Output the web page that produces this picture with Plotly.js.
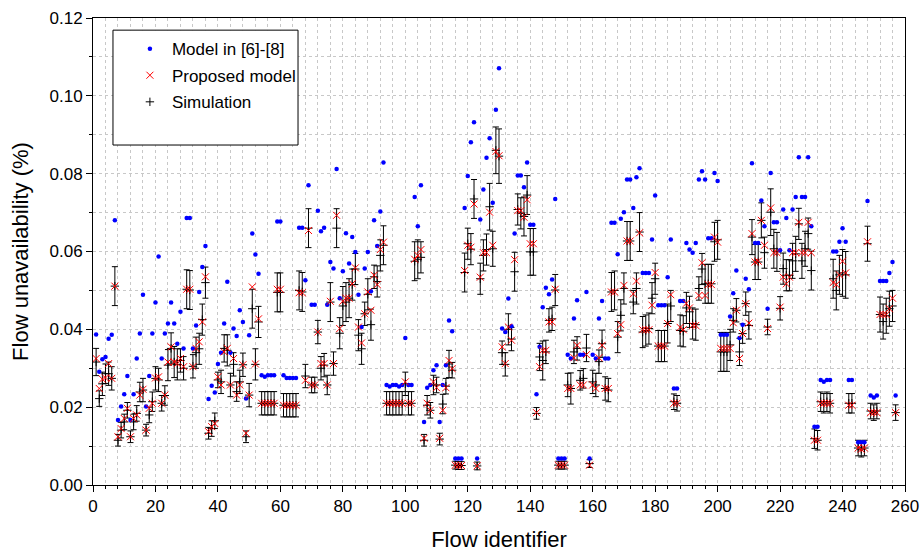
<!DOCTYPE html>
<html>
<head>
<meta charset="utf-8">
<script src="https://cdn.plot.ly/plotly-3.0.1.min.js"></script>
<style>html,body{margin:0;padding:0;background:#fff;}#chart{width:921px;height:554px;}</style>
</head>
<body>
<div id="chart"></div>
<script>
const flowIds = [
1,2,3,4,5,6,7,8,9,10,11,12,13,14,15,16,17,18,19,20,
21,22,23,24,25,26,27,28,29,30,31,32,33,34,35,36,37,38,39,40,
41,42,43,44,45,46,47,48,49,50,51,52,53,54,55,56,57,58,59,60,
61,62,63,64,65,66,67,68,69,70,71,72,73,74,75,76,77,78,79,80,
81,82,83,84,85,86,87,88,89,90,91,92,93,94,95,96,97,98,99,100,
101,102,103,104,105,106,107,108,109,110,111,112,113,114,115,116,117,118,119,120,
121,122,123,124,125,126,127,128,129,130,131,132,133,134,135,136,137,138,139,140,
141,142,143,144,145,146,147,148,149,150,151,152,153,154,155,156,157,158,159,160,
161,162,163,164,165,166,167,168,169,170,171,172,173,174,175,176,177,178,179,180,
181,182,183,184,185,186,187,188,189,190,191,192,193,194,195,196,197,198,199,200,
201,202,203,204,205,206,207,208,209,210,211,212,213,214,215,216,217,218,219,220,
221,222,223,224,225,226,227,228,229,230,231,232,233,234,235,236,237,238,239,240,
241,242,243,244,245,246,247,248,249,250,251,252,253,254,255,256,257];

const modelPrior = [
0.0387,0.0291,0.0323,0.0329,0.0376,0.0386,0.068,0.0167,0.0202,0.0233,
0.028,0.0167,0.0233,0.0325,0.0389,0.0489,0.0202,0.028,0.0389,0.0469,
0.0587,0.0325,0.0389,0.0415,0.0469,0.0415,0.0363,0.0445,0.0351,0.0686,
0.0686,0.0351,0.041,0.0496,0.056,0.0614,0.0221,0.0255,0.0238,0.0311,
0.034,0.0415,0.0522,0.034,0.0402,0.0383,0.0449,0.0419,0.0222,0.0385,
0.0646,0.0592,0.0543,0.0282,0.0278,0.0282,0.0282,0.0282,0.0677,0.0677,
0.0282,0.0275,0.0275,0.0275,0.0275,0.0661,0.0661,0.0526,0.077,0.0463,
0.0463,0.0705,0.0652,0.0661,0.0463,0.0573,0.0556,0.0812,0.048,0.0549,
0.0647,0.0569,0.0637,0.0599,0.0489,0.0406,0.0556,0.0599,0.0498,0.068,
0.0614,0.0703,0.0829,0.0257,0.0253,0.0257,0.0257,0.0253,0.0257,0.0378,
0.0257,0.0257,0.074,0.0665,0.077,0.0162,0.025,0.0257,0.0295,0.0308,
0.0162,0.0257,0.0308,0.0423,0.0395,0.0068,0.0068,0.0068,0.0712,0.0794,
0.0881,0.0932,0.0068,0.0682,0.0759,0.0841,0.0891,0.0725,0.0964,0.1071,
0.0402,0.0393,0.0479,0.0408,0.0646,0.0795,0.0795,0.0765,0.0829,0.0669,
0.0669,0.0233,0.0355,0.0457,0.0507,0.049,0.0528,0.0735,0.0068,0.0068,
0.0068,0.0335,0.0325,0.0428,0.0475,0.0335,0.0335,0.0496,0.0068,0.0335,
0.0325,0.0428,0.0473,0.0325,0.0325,0.0674,0.0674,0.0593,0.0684,0.0701,
0.0785,0.0785,0.0712,0.0791,0.0814,0.0545,0.0545,0.0545,0.0631,0.0744,
0.0462,0.0462,0.0462,0.0534,0.0631,0.0248,0.0248,0.0473,0.0473,0.0622,
0.0605,0.0597,0.0622,0.0785,0.0806,0.0785,0.0634,0.0634,0.0802,0.0781,
0.0386,0.0386,0.0386,0.0433,0.0493,0.0551,0.0378,0.0412,0.053,0.0503,
0.0827,0.0622,0.0622,0.0731,0.0665,0.0453,0.0802,0.0675,0.0675,0.0603,
0.0708,0.0686,0.0603,0.0708,0.074,0.0842,0.074,0.074,0.0842,0.0665,
0.015,0.015,0.027,0.0265,0.027,0.027,0.060,0.060,0.0625,0.066,
0.0625,0.027,0.027,null,0.011,0.011,0.011,0.073,0.023,0.0225,
0.023,0.0524,0.0524,0.0524,0.0545,0.0573,0.023];

const proposedModel = [
0.0325,0.0248,0.0272,0.0275,0.0312,0.0274,0.0511,0.0124,0.0145,0.0171,
0.0197,0.0124,0.0171,0.018,0.0231,0.0246,0.0141,0.0197,0.021,0.0275,
0.0278,0.021,0.0231,0.0316,0.0355,0.0316,0.0312,0.0325,0.0304,0.0503,
0.0503,0.0304,0.0351,0.0368,0.0419,0.0535,0.0137,0.015,0.0158,0.0278,
0.0257,0.0342,0.0351,0.0257,0.0325,0.0231,0.0257,0.0309,0.0133,0.0231,
0.0509,0.0311,0.0427,0.021,0.021,0.021,0.021,0.021,0.0503,0.0503,
0.0205,0.0205,0.0205,0.0205,0.0205,0.0494,0.0494,0.0269,0.0654,0.0257,
0.0257,0.0393,0.0312,0.0312,0.0257,0.0472,0.0312,0.0693,0.0402,0.0472,
0.048,0.048,0.0517,0.0558,0.0406,0.0365,0.044,0.0496,0.0449,0.0539,
0.0515,0.0605,0.0624,0.021,0.021,0.021,0.021,0.021,0.021,0.0265,
0.021,0.021,0.058,0.059,0.0605,0.012,0.021,0.0192,0.0265,0.025,
0.012,0.0192,0.025,0.032,0.0299,0.0051,0.005,0.005,0.0551,0.0616,
0.0611,0.0722,0.0049,0.0534,0.0597,0.0597,0.0701,0.0616,0.0857,0.0846,
0.0355,0.0312,0.0406,0.0372,0.0579,0.0705,0.0705,0.0688,0.0733,0.062,
0.062,0.0186,0.0304,0.0346,0.0346,0.0419,0.0419,0.0503,0.0051,0.0051,
0.0051,0.0248,0.0248,0.0327,0.0359,0.0257,0.0257,0.0335,0.0051,0.0257,
0.0248,0.0327,0.0359,0.0248,0.0248,0.0496,0.0496,0.0389,0.0412,0.0513,
0.0627,0.0627,0.0491,0.0524,0.0648,0.0399,0.0399,0.0399,0.0462,0.0546,
0.0357,0.0357,0.0357,0.0415,0.0489,0.021,0.021,0.0405,0.0399,0.0467,
0.0455,0.041,0.041,0.0487,0.0571,0.0487,0.0515,0.0515,0.0637,0.0624,
0.0351,0.0351,0.0351,0.0351,0.0417,0.0449,0.0325,0.0389,0.0466,0.0416,
0.0646,0.0573,0.0575,0.068,0.0616,0.0402,0.0712,0.0597,0.0597,0.0457,
0.0534,0.0517,0.0534,0.0597,0.0597,0.0675,0.0597,0.0597,0.0675,0.0597,
0.0115,0.0115,0.021,0.021,0.021,0.021,0.052,0.0515,0.054,0.0575,
0.0545,0.0205,0.0205,null,0.0095,0.0092,0.0095,0.0625,0.0186,0.0186,
0.0186,0.0438,0.0438,0.0438,0.0453,0.048,0.0186];

const simulation = [
0.0316,0.0222,0.026,0.0286,0.0286,0.0274,0.0511,0.0115,0.0141,0.0162,
0.0192,0.0124,0.0162,0.0184,0.0239,0.0244,0.0141,0.018,0.0214,0.0274,
0.027,0.021,0.023,0.0308,0.0351,0.0316,0.031,0.032,0.03,0.0503,
0.0501,0.0305,0.034,0.035,0.0425,0.052,0.0133,0.0145,0.0165,0.027,
0.0265,0.0351,0.0346,0.0257,0.031,0.024,0.0265,0.0309,0.0124,0.0231,
0.0453,0.031,0.0419,0.021,0.021,0.021,0.021,0.021,0.0495,0.0495,
0.0205,0.0205,0.0205,0.0205,0.0205,0.05,0.0496,0.028,0.066,0.0257,
0.0257,0.0393,0.03,0.0308,0.0257,0.047,0.0312,0.066,0.039,0.046,
0.047,0.048,0.0515,0.0555,0.0385,0.035,0.044,0.049,0.0412,0.0535,
0.0523,0.059,0.0616,0.021,0.021,0.021,0.021,0.021,0.021,0.026,
0.021,0.021,0.0575,0.058,0.0585,0.0115,0.0205,0.0192,0.0257,0.0257,
0.0118,0.0208,0.0254,0.0311,0.0295,0.0051,0.005,0.005,0.0546,0.062,
0.0606,0.0735,0.0049,0.053,0.059,0.0605,0.0715,0.0607,0.086,0.0845,
0.034,0.031,0.04,0.0375,0.0548,0.0708,0.0698,0.069,0.0745,0.0599,
0.0599,0.0184,0.0329,0.032,0.0342,0.0423,0.0427,0.0501,0.0051,0.0051,
0.0051,0.0257,0.0248,0.0342,0.0351,0.0269,0.0274,0.0352,0.0055,0.0265,
0.0257,0.0317,0.0363,0.0248,0.0244,0.0496,0.05,0.038,0.0436,0.0505,
0.0627,0.0627,0.047,0.0505,0.065,0.0393,0.0397,0.0402,0.048,0.053,
0.0357,0.0357,0.0357,0.0415,0.046,0.0214,0.021,0.0397,0.0395,0.0455,
0.0445,0.0415,0.0412,0.0505,0.0555,0.0517,0.0517,0.0517,0.0625,0.063,
0.0342,0.0342,0.0342,0.036,0.0423,0.0449,0.0342,0.0389,0.0466,0.041,
0.0637,0.0573,0.0573,0.068,0.0597,0.0406,0.0701,0.0607,0.0599,0.0454,
0.0556,0.0539,0.0539,0.0576,0.0594,0.0671,0.0576,0.0607,0.0646,0.0551,
0.0119,0.0115,0.0214,0.021,0.0214,0.021,0.053,0.05,0.054,0.0545,
0.054,0.021,0.021,null,0.0095,0.0092,0.0095,0.062,0.019,0.0186,
0.019,0.0438,0.042,0.0435,0.0453,0.046,0.0186];

const simulationError = [
0.0035,0.002,0.003,0.0025,0.003,0.003,0.005,0.0015,0.002,0.002,
0.002,0.0015,0.002,0.002,0.0025,0.003,0.0015,0.002,0.0025,0.003,
0.003,0.002,0.0025,0.004,0.004,0.004,0.004,0.003,0.003,0.005,
0.005,0.003,0.004,0.004,0.004,0.004,0.0015,0.002,0.002,0.002,
0.003,0.0035,0.004,0.003,0.003,0.0025,0.003,0.003,0.0015,0.003,
0.005,0.004,0.004,0.003,0.003,0.003,0.003,0.003,0.005,0.005,
0.003,0.003,0.003,0.003,0.003,0.005,0.005,0.003,0.005,0.002,
0.002,0.003,0.003,0.003,0.0025,0.005,0.003,0.005,0.004,0.005,
0.005,0.005,0.004,0.004,0.004,0.004,0.003,0.004,0.004,0.003,
0.004,0.004,0.005,0.003,0.003,0.003,0.003,0.003,0.003,0.003,
0.003,0.003,0.005,0.005,0.004,0.0015,0.0025,0.002,0.0025,0.002,
0.0015,0.0025,0.002,0.0035,0.002,0.001,0.001,0.001,0.005,0.004,
0.004,0.005,0.001,0.004,0.004,0.004,0.006,0.0045,0.006,0.007,
0.003,0.003,0.004,0.003,0.005,0.004,0.004,0.005,0.005,0.006,
0.006,0.0015,0.0035,0.005,0.003,0.003,0.003,0.004,0.001,0.001,
0.001,0.003,0.004,0.003,0.003,0.0025,0.0025,0.0035,0.001,0.003,
0.003,0.003,0.0035,0.003,0.003,0.005,0.005,0.004,0.004,0.004,
0.005,0.005,0.003,0.004,0.005,0.004,0.004,0.004,0.004,0.004,
0.004,0.004,0.004,0.005,0.004,0.002,0.002,0.004,0.004,0.004,
0.004,0.004,0.004,0.003,0.004,0.005,0.005,0.005,0.005,0.005,
0.005,0.005,0.005,0.004,0.003,0.003,0.0035,0.0025,0.003,0.0035,
0.0045,0.0045,0.0045,0.0045,0.004,0.002,0.006,0.005,0.005,0.003,
0.004,0.004,0.004,0.0045,0.0045,0.004,0.0045,0.0045,0.004,0.005,
0.0025,0.0025,0.0025,0.0025,0.0025,0.0025,0.005,0.005,0.005,0.006,
0.006,0.0025,0.0025,null,0.002,0.002,0.002,0.0045,0.002,0.002,
0.002,0.0045,0.0045,0.0045,0.0045,0.004,0.002];

const seriesNames = ['Model in [6]-[8]', 'Proposed model', 'Simulation'];

const traces = [
  {
    x: flowIds, y: simulation, name: seriesNames[2], type: 'scatter', mode: 'markers',
    legendrank: 3, legendgroup: 'g3',
    marker: {symbol: 'cross-thin-open', size: 6, color: '#000', line: {color: '#000', width: 1}},
    error_y: {type: 'data', array: simulationError, visible: true, color: '#000', thickness: 1, width: 3}
  },
  {
    x: flowIds, y: modelPrior, name: seriesNames[0], type: 'scatter', mode: 'markers',
    legendrank: 1, legendgroup: 'g1',
    marker: {symbol: 'circle', size: 4.5, color: '#0000ff'}
  },
  {
    x: flowIds, y: proposedModel, name: seriesNames[1], type: 'scatter', mode: 'markers',
    legendrank: 2, legendgroup: 'g2',
    marker: {symbol: 'x-thin-open', size: 7, color: '#ff0000', line: {color: '#ff0000', width: 1}}
  }
];

const gridStyle = {gridcolor: '#c8c8c8', griddash: 'dot', gridwidth: 1};

const layout = {
  width: 921, height: 554,
  margin: {l: 93, r: 16, t: 18, b: 69},
  paper_bgcolor: '#fff', plot_bgcolor: '#fff',
  font: {family: 'Liberation Sans, Arial, sans-serif', size: 17, color: '#000'},
  showlegend: true,
  legend: {
    x: 0.043, y: 0.972, xanchor: 'left', yanchor: 'top',
    borderwidth: 0, bgcolor: 'rgba(0,0,0,0)',
    font: {size: 17, color: '#000'}, traceorder: 'grouped', tracegroupgap: 1.5, itemwidth: 34
  },
  shapes: [{
    type: 'rect', xref: 'paper', yref: 'paper',
    x0: 0.0246, x1: 0.2525, y0: 0.728, y1: 0.974,
    line: {color: '#000', width: 1}, fillcolor: '#fff', layer: 'above'
  }],
  xaxis: Object.assign({
    range: [0, 260], tick0: 0, dtick: 20, ticks: 'outside', ticklen: 6, tickwidth: 1, tickcolor: '#000',
    showline: true, linecolor: '#000', linewidth: 1, mirror: true,
    showgrid: true, zeroline: false,
    minor: Object.assign({dtick: 4, ticks: 'outside', ticklen: 3, tickcolor: '#000', showgrid: true}, gridStyle),
    title: {text: 'Flow identifier', font: {size: 22}, standoff: 16},
    tickfont: {size: 17}
  }, gridStyle),
  yaxis: Object.assign({
    range: [0, 0.12], tick0: 0, dtick: 0.02, tickformat: '.2f', ticks: 'outside', ticklen: 6, tickwidth: 1, tickcolor: '#000',
    showline: true, linecolor: '#000', linewidth: 1, mirror: true,
    showgrid: true, zeroline: false,
    minor: Object.assign({dtick: 0.01, ticks: 'outside', ticklen: 3, tickcolor: '#000', showgrid: true}, gridStyle),
    title: {text: 'Flow unavailability (%)', font: {size: 22}, standoff: 14},
    tickfont: {size: 17}
  }, gridStyle),
  xaxis2: {
    overlaying: 'x', side: 'top', anchor: 'y', range: [0, 260], tick0: 0, dtick: 20,
    ticks: 'inside', ticklen: 6, tickcolor: '#000', showticklabels: false, showgrid: false, zeroline: false,
    minor: {dtick: 4, ticks: 'inside', ticklen: 3, tickcolor: '#000', showgrid: false}
  },
  yaxis2: {
    overlaying: 'y', side: 'right', anchor: 'x', range: [0, 0.12], tick0: 0, dtick: 0.02,
    ticks: 'inside', ticklen: 6, tickcolor: '#000', showticklabels: false, showgrid: false, zeroline: false,
    minor: {dtick: 0.01, ticks: 'inside', ticklen: 3, tickcolor: '#000', showgrid: false}
  }
};

Plotly.newPlot('chart', traces, layout, {displayModeBar: false, staticPlot: true});
</script>
</body>
</html>
